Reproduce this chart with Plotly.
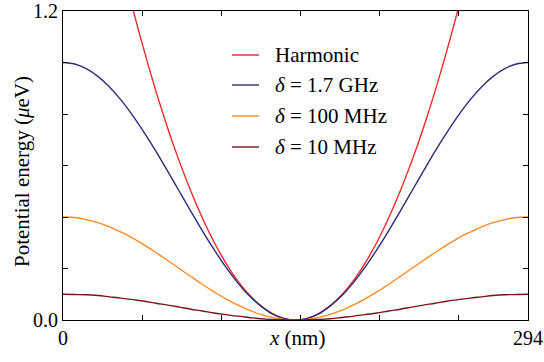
import plotly.graph_objects as go

# positions along the trap (nm)
x_nm = [0, 7.35, 14.7, 22.05, 29.4, 36.75, 44.1, 51.45, 58.8, 66.15,
        73.5, 80.85, 88.2, 95.55, 102.9, 110.25, 117.6, 124.95, 132.3, 139.65,
        147,
        154.35, 161.7, 169.05, 176.4, 183.75, 191.1, 198.45, 205.8, 213.15,
        220.5, 227.85, 235.2, 242.55, 249.9, 257.25, 264.6, 271.95, 279.3, 286.65,
        294]

# potential energy (ueV)
harmonic = [None, None, None, None, None, 1.388, 1.209, 1.043, 0.888, 0.746,
            0.617, 0.500, 0.395, 0.302, 0.222, 0.154, 0.099, 0.056, 0.025, 0.006,
            0.0,
            0.006, 0.025, 0.056, 0.099, 0.154, 0.222, 0.302, 0.395, 0.500,
            0.617, 0.746, 0.888, 1.043, 1.209, 1.388, None, None, None, None,
            None]
delta_1p7GHz = [1.000, 0.994, 0.976, 0.946, 0.905, 0.854, 0.794, 0.727, 0.655, 0.578,
                0.500, 0.422, 0.345, 0.273, 0.206, 0.146, 0.095, 0.055, 0.024, 0.006,
                0.0,
                0.006, 0.024, 0.055, 0.095, 0.146, 0.206, 0.273, 0.345, 0.422,
                0.500, 0.578, 0.655, 0.727, 0.794, 0.854, 0.905, 0.946, 0.976, 0.994,
                1.000]
delta_100MHz = [0.400, 0.398, 0.390, 0.378, 0.362, 0.341, 0.318, 0.291, 0.262, 0.231,
                0.200, 0.169, 0.138, 0.109, 0.082, 0.059, 0.038, 0.022, 0.010, 0.002,
                0.0,
                0.002, 0.010, 0.022, 0.038, 0.059, 0.082, 0.109, 0.138, 0.169,
                0.200, 0.231, 0.262, 0.291, 0.318, 0.341, 0.362, 0.378, 0.390, 0.398,
                0.400]
delta_10MHz = [0.100, 0.099, 0.098, 0.095, 0.090, 0.085, 0.079, 0.073, 0.065, 0.058,
               0.050, 0.042, 0.035, 0.027, 0.021, 0.015, 0.010, 0.005, 0.002, 0.001,
               0.0,
               0.001, 0.002, 0.005, 0.010, 0.015, 0.021, 0.027, 0.035, 0.042,
               0.050, 0.058, 0.065, 0.073, 0.079, 0.085, 0.090, 0.095, 0.098, 0.099,
               0.100]

series_names = ["Harmonic", "<i>δ</i> = 1.7 GHz", "<i>δ</i> = 100 MHz", "<i>δ</i> = 10 MHz"]
series_values = [harmonic, delta_1p7GHz, delta_100MHz, delta_10MHz]
series_colors = ["#ee2a2e", "#2c2c7a", "#ff8a1e", "#7a1418"]

x_tickvals = [0, 50, 100, 150, 200, 250, 294]
x_ticktext = ["0", "", "", "", "", "", "294"]
y_tickvals = [0.0, 0.2, 0.4, 0.6, 0.8, 1.0, 1.2]
y_ticktext = ["0.0", "", "", "", "", "", "1.2"]

FONT = "Liberation Serif, DejaVu Serif, serif"
FS = 20       # tick labels
FS_TXT = 21   # legend and axis titles

W, H = 544, 362
ML, MR, MT, MB = 63, 16, 11, 42
PW, PH = W - ML - MR, H - MT - MB


def px_to_paper(px, py):
    """window pixel -> paper coordinates"""
    return (px - ML) / PW, (H - MB - py) / PH


fig = go.Figure()
for name, vals, col in zip(series_names, series_values, series_colors):
    xs = [x for x, v in zip(x_nm, vals) if v is not None]
    ys = [v for v in vals if v is not None]
    fig.add_trace(go.Scatter(
        x=xs, y=ys, mode="lines", name=name, showlegend=False,
        line=dict(color=col, width=1.4, shape="spline", smoothing=1.0),
    ))

# hand-drawn legend (line sample + label)
legend_rows_py = [55, 85, 116, 147]
for name, col, py in zip(series_names, series_colors, legend_rows_py):
    x0, y0 = px_to_paper(232, py)
    x1, _ = px_to_paper(259, py)
    fig.add_shape(type="line", xref="paper", yref="paper", x0=x0, x1=x1, y0=y0, y1=y0,
                  line=dict(color=col, width=1.4))
    xt, _ = px_to_paper(273, py)
    fig.add_annotation(xref="paper", yref="paper", x=xt, y=y0, xanchor="left", yanchor="middle",
                       text=name, showarrow=False, font=dict(family=FONT, size=FS_TXT, color="black"))

# axis titles
xtx, xty = px_to_paper(297, 338)
fig.add_annotation(xref="paper", yref="paper", x=xtx, y=xty, xanchor="center", yanchor="middle",
                   text="<i>x</i> (nm)", showarrow=False, font=dict(family=FONT, size=FS_TXT, color="black"))
ytx, yty = px_to_paper(22, 172)
fig.add_annotation(xref="paper", yref="paper", x=ytx, y=yty, xanchor="center", yanchor="middle",
                   text="Potential energy (<i>μ</i>eV)", textangle=-90, showarrow=False,
                   font=dict(family=FONT, size=FS_TXT, color="black"))

axis_common = dict(
    showline=True, linecolor="black", linewidth=1.2, mirror="ticks",
    ticks="inside", ticklen=5, tickwidth=1.2, tickcolor="black",
    showgrid=False, zeroline=False, automargin=False,
    tickfont=dict(family=FONT, size=FS, color="black"),
)

fig.update_layout(
    width=W, height=H,
    margin=dict(l=ML, r=MR, t=MT, b=MB),
    plot_bgcolor="white", paper_bgcolor="white",
    font=dict(family=FONT, size=FS, color="black"),
    xaxis=dict(range=[0, 294], tickvals=x_tickvals, ticktext=x_ticktext, **axis_common),
    yaxis=dict(range=[0, 1.2], tickvals=y_tickvals, ticktext=y_ticktext, **axis_common),
    showlegend=False,
)

# remove the default 8px page margin so the figure sits at the window's corner
fig.write_html("out.html", config={"displayModeBar": False},
               post_script="document.body.style.margin='0';")
